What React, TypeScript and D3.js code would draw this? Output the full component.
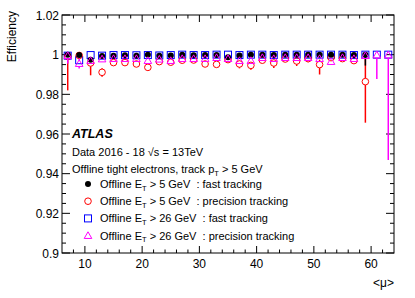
import * as d3 from "d3";
import React, { useEffect, useRef } from "react";

// pile-up bins (<mu>)
const MU = [7, 9, 11, 13, 15, 17, 19, 21, 23, 25, 27, 29, 31, 33, 35, 37, 39, 41, 43, 45, 47, 49, 51, 53, 55, 57, 59, 61, 63];

// Offline ET > 5 GeV : fast tracking (black dots)
const FAST5 = [1.0, 0.9998, 0.9975, 0.9993, 0.9995, 0.9997, 0.9995, 1.0, 0.9994, 0.9996, 1.0, 0.9997, 0.9998, 0.9998, 0.9987, 0.9996, 1.0, 1.0, 0.9998, 1.0, 1.0, 1.0, 1.0, 1.0, 1.0, 0.9998, 1.0, null, null];
const FAST5_LO = [0.0003, 0.0003, 0.001, 0.0004, 0.0003, 0.0003, 0.0003, 0.0003, 0.0003, 0.0003, 0.0003, 0.0003, 0.0003, 0.0003, 0.0006, 0.0003, 0.0003, 0.0003, 0.0003, 0.0003, 0.0003, 0.0003, 0.0003, 0.0003, 0.0003, 0.0004, 0.0055, 0, 0];
const FAST5_HI = [0, 0.0002, 0.001, 0.0004, 0.0003, 0.0003, 0.0003, 0, 0.0003, 0.0003, 0, 0.0003, 0.0002, 0.0002, 0.0006, 0.0003, 0, 0, 0.0002, 0, 0, 0, 0, 0, 0, 0.0002, 0, 0, 0];

// Offline ET > 5 GeV : precision tracking (red open circles)
const PREC5 = [0.9992, 0.9996, 0.9958, 0.9911, 0.996, 0.996, 0.9953, 0.9936, 0.9965, 0.9962, 0.9972, 0.9973, 0.9953, 0.9951, 0.9975, 0.9953, 0.9946, 0.9972, 0.9958, 0.9978, 0.9968, 0.998, 0.995, 0.9985, 0.998, 0.997, 0.9864, null, null];
const PREC5_LO = [0.0172, 0.0005, 0.0062, 0.0022, 0.0006, 0.0006, 0.0008, 0.0006, 0.0006, 0.0006, 0.0005, 0.0005, 0.0007, 0.0008, 0.0006, 0.0022, 0.0022, 0.0012, 0.0025, 0.0015, 0.0025, 0.0018, 0.005, 0.0008, 0.0016, 0.0015, 0.0207, 0, 0];
const PREC5_HI = [0.0008, 0.0004, 0.0025, 0.002, 0.0006, 0.0006, 0.0008, 0.0006, 0.0006, 0.0006, 0.0005, 0.0005, 0.0007, 0.0008, 0.0006, 0.0018, 0.0016, 0.0012, 0.0015, 0.0012, 0.0015, 0.0015, 0.0025, 0.0008, 0.0014, 0.0015, 0.0126, 0, 0];

// Offline ET > 26 GeV : fast tracking (blue open squares)
const FAST26 = [0.9995, 0.9972, 0.9998, 0.9995, 0.9998, 0.9998, 0.9997, 0.9998, 0.9996, 0.9998, 1.0, 0.9998, 0.9998, 1.0, 1.0, 0.9998, 1.0, 1.0, 0.9998, 1.0, 1.0, 1.0, 1.0, 1.0, 1.0, 0.9998, 1.0, 1.0, 1.0];
const FAST26_ERR = [0.0005, 0.0008, 0.0002, 0.0004, 0.0002, 0.0002, 0.0003, 0.0002, 0.0003, 0.0002, 0.0002, 0.0002, 0.0002, 0.0002, 0.0002, 0.0002, 0.0002, 0.0002, 0.0002, 0.0002, 0.0002, 0.0002, 0.0002, 0.0002, 0.0002, 0.0002, 0.0003, 0.0004, 0.0006];

// Offline ET > 26 GeV : precision tracking (magenta open triangles)
const PREC26 = [0.9995, 0.9955, 0.997, 0.9978, 0.998, 0.998, 0.998, 0.997, 0.9977, 0.997, 0.998, 0.998, 0.998, 0.9985, 0.998, 0.997, 0.997, 0.9985, 0.998, 0.9985, 0.9985, 0.9985, 0.998, 0.9965, 0.9985, 0.998, 0.9995, 0.9998, 0.9998];
const PREC26_LO = [0.004, 0.0025, 0.0012, 0.001, 0.0008, 0.0008, 0.0008, 0.0008, 0.0008, 0.0008, 0.0008, 0.0008, 0.0008, 0.0008, 0.0008, 0.001, 0.001, 0.0008, 0.0008, 0.0008, 0.0008, 0.0008, 0.0008, 0.0012, 0.0008, 0.0008, 0.001, 0.0121, 0.0529];
const PREC26_HI = [0.0005, 0.0025, 0.001, 0.001, 0.0008, 0.0008, 0.0008, 0.0008, 0.0008, 0.0008, 0.0008, 0.0008, 0.0008, 0.0008, 0.0008, 0.001, 0.001, 0.0008, 0.0008, 0.0008, 0.0008, 0.0008, 0.0008, 0.001, 0.0008, 0.0008, 0.0005, 0.0002, 0.0002];

const X_TICKS = [10, 20, 30, 40, 50, 60];
const Y_TICKS = [0.9, 0.92, 0.94, 0.96, 0.98, 1.0, 1.02];
const Y_LABELS = ["0.9", "0.92", "0.94", "0.96", "0.98", "1", "1.02"];

const LEGEND = [
  { et: "5", trk: "fast tracking", marker: "dot" },
  { et: "5", trk: "precision tracking", marker: "circle" },
  { et: "26", trk: "fast tracking", marker: "square" },
  { et: "26", trk: "precision tracking", marker: "triangle" },
];

const width = 415;
const height = 298;
const font = "'Liberation Sans', Arial, Helvetica, sans-serif";

const App = () => {
  const ref = useRef<HTMLDivElement>(null);

  useEffect(() => {
    const left = 62, right = 394, top = 15, bottom = 253;
    const x = d3.scaleLinear().domain([6, 64]).range([left, right]);
    const y = d3.scaleLinear().domain([0.9, 1.02]).range([bottom, top]);

    const svg = d3.create("svg")
      .attr("width", width)
      .attr("height", height)
      .style("position", "absolute")
      .style("left", "0px")
      .style("top", "0px")
      .style("background", "white")
      .style("font-family", font);

    // frame
    svg.append("rect")
      .attr("x", left).attr("y", top)
      .attr("width", right - left).attr("height", bottom - top)
      .attr("fill", "none").attr("stroke", "black").attr("stroke-width", 1);

    // x ticks, both sides, pointing inward
    const xMinor = d3.range(8, 64, 2);
    xMinor.forEach(v => {
      const major = v % 10 === 0;
      const len = major ? 7 : 3.5;
      [[bottom, -len], [top, len]].forEach(([y0, d]) => {
        svg.append("line")
          .attr("x1", x(v)).attr("x2", x(v))
          .attr("y1", y0).attr("y2", y0 + d)
          .attr("stroke", "black").attr("stroke-width", 1);
      });
    });
    X_TICKS.forEach(v => {
      svg.append("text")
        .attr("x", x(v)).attr("y", bottom + 15)
        .attr("text-anchor", "middle")
        .style("font-size", "12px")
        .text(v);
    });

    // y ticks
    const yMinor = d3.range(0, 25).map(i => 0.9 + i * 0.005);
    yMinor.forEach((v, i) => {
      const major = i % 4 === 0;
      const len = major ? 8 : 4;
      [[left, len], [right, -len]].forEach(([x0, d]) => {
        svg.append("line")
          .attr("x1", x0).attr("x2", x0 + d)
          .attr("y1", y(v)).attr("y2", y(v))
          .attr("stroke", "black").attr("stroke-width", 1);
      });
    });
    Y_TICKS.forEach((v, i) => {
      svg.append("text")
        .attr("x", left - 3).attr("y", y(v) + 4.5)
        .attr("text-anchor", "end")
        .style("font-size", "12px")
        .text(Y_LABELS[i]);
    });

    // axis titles
    svg.append("text")
      .attr("transform", `translate(16, 11) rotate(-90)`)
      .attr("text-anchor", "end")
      .style("font-size", "12px")
      .text("Efficiency");

    svg.append("text")
      .attr("x", right).attr("y", 287)
      .attr("text-anchor", "end")
      .style("font-size", "12px")
      .text("<μ>");

    // marker helpers
    const drawMarker = (g, kind, cx, cy, color) => {
      if (kind === "dot") {
        g.append("circle").attr("cx", cx).attr("cy", cy).attr("r", 3).attr("fill", color);
      } else if (kind === "circle") {
        g.append("circle").attr("cx", cx).attr("cy", cy).attr("r", 3.3)
          .attr("fill", "none").attr("stroke", color).attr("stroke-width", 1);
      } else if (kind === "square") {
        g.append("rect").attr("x", cx - 3.5).attr("y", cy - 3.5).attr("width", 7).attr("height", 7)
          .attr("fill", "none").attr("stroke", color).attr("stroke-width", 1);
      } else {
        const s = 3.8;
        g.append("path")
          .attr("d", `M${cx},${cy - s} L${cx + s},${cy + s * 0.75} L${cx - s},${cy + s * 0.75} Z`)
          .attr("fill", "none").attr("stroke", color).attr("stroke-width", 1);
      }
    };

    const series = [
      { vals: FAST26, lo: FAST26_ERR, hi: FAST26_ERR, color: "#0000ff", kind: "square", r: 3.5 },
      { vals: PREC5, lo: PREC5_LO, hi: PREC5_HI, color: "#ff0000", kind: "circle", r: 3.3 },
      { vals: FAST5, lo: FAST5_LO, hi: FAST5_HI, color: "#000000", kind: "dot", r: 0 },
      { vals: PREC26, lo: PREC26_LO, hi: PREC26_HI, color: "#ff00ff", kind: "triangle", r: 3 },
    ];

    series.forEach(s => {
      const g = svg.append("g");
      s.vals.forEach((v, i) => {
        if (v === null) return;
        const cx = x(MU[i]);
        const cy = y(v);
        const yLo = y(v - s.lo[i]);
        const yHi = y(v + s.hi[i]);
        if (yLo > cy + s.r) {
          g.append("line").attr("x1", cx).attr("x2", cx)
            .attr("y1", cy + s.r).attr("y2", yLo)
            .attr("stroke", s.color).attr("stroke-width", 1.5);
        }
        if (yHi < cy - s.r) {
          g.append("line").attr("x1", cx).attr("x2", cx)
            .attr("y1", cy - s.r).attr("y2", yHi)
            .attr("stroke", s.color).attr("stroke-width", 1.5);
        }
        drawMarker(g, s.kind, cx, cy, s.color);
      });
    });

    // ATLAS label and info
    svg.append("text")
      .attr("x", 72).attr("y", 138)
      .style("font-size", "12.5px").style("font-weight", "bold").style("font-style", "italic")
      .text("ATLAS");

    svg.append("text")
      .attr("x", 72).attr("y", 156)
      .style("font-size", "11px")
      .text("Data 2016 - 18 √s = 13TeV");

    const tight = svg.append("text")
      .attr("x", 72).attr("y", 173)
      .style("font-size", "11px");
    tight.append("tspan").text("Offline tight electrons, track p");
    tight.append("tspan").attr("dy", 2.5).style("font-size", "7.5px").text("T");
    tight.append("tspan").attr("dy", -2.5).text(" > 5 GeV");

    const legendColors = { dot: "#000000", circle: "#ff0000", square: "#0000ff", triangle: "#ff00ff" };
    LEGEND.forEach((d, i) => {
      const ly = 184 + i * 17.2;
      drawMarker(svg, d.marker, 88, ly, legendColors[d.marker]);
      const t = svg.append("text")
        .attr("x", 100).attr("y", ly + 4)
        .attr("xml:space", "preserve")
        .style("white-space", "pre")
        .style("font-size", "11px");
      t.append("tspan").text("Offline E");
      t.append("tspan").attr("dy", 2.5).style("font-size", "7.5px").text("T");
      t.append("tspan").attr("dy", -2.5).text(` > ${d.et} GeV  : ${d.trk}`);
    });

    if (ref.current) {
      ref.current.innerHTML = "";
      ref.current.appendChild(svg.node());
    }
  }, []);

  return <div ref={ref}></div>;
};

export default App;
